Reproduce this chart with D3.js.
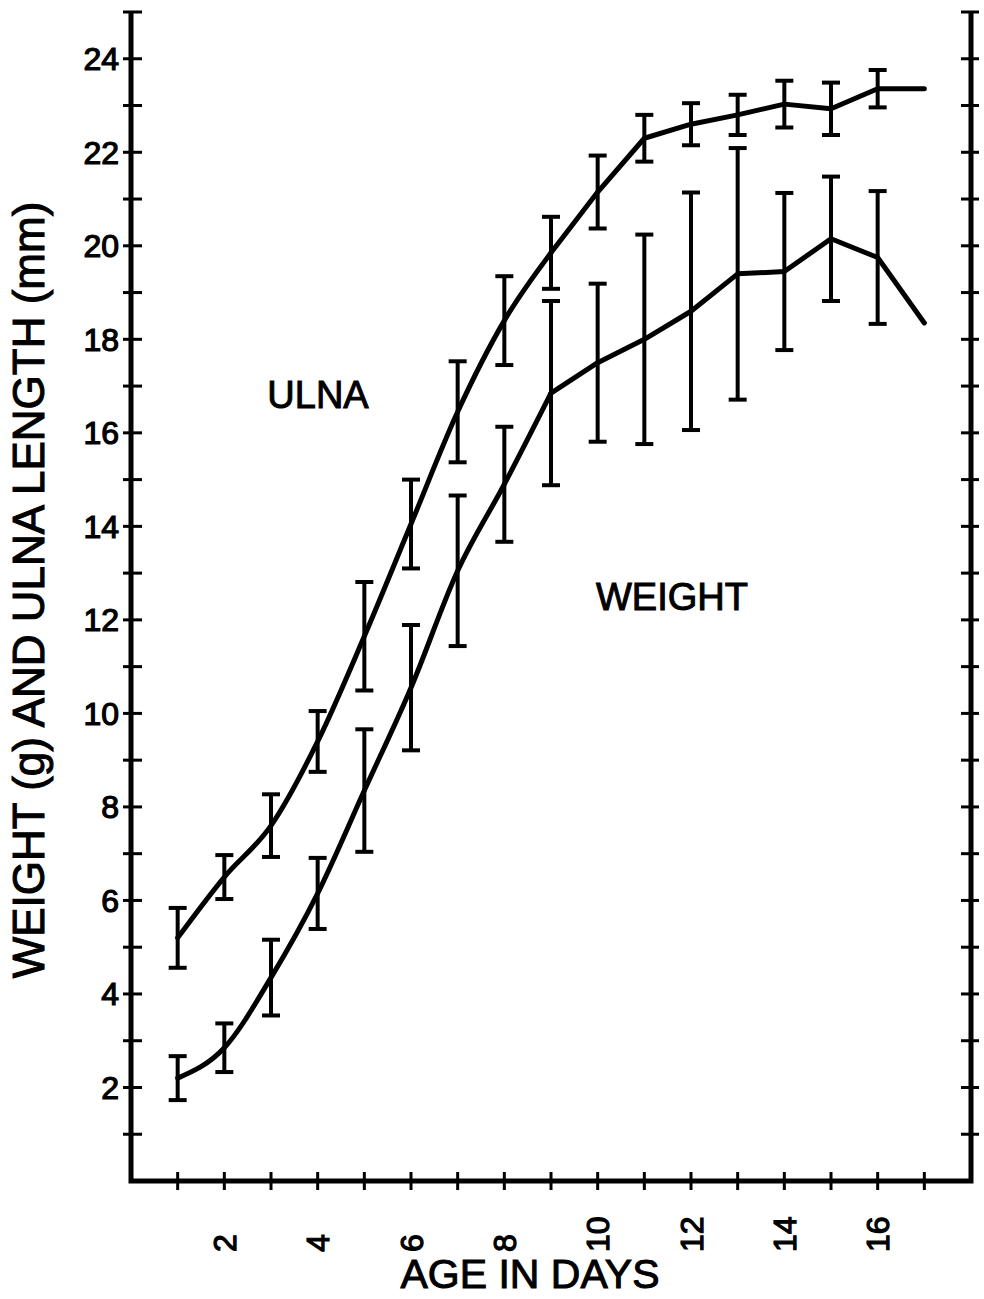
<!DOCTYPE html>
<html>
<head>
<meta charset="utf-8">
<script src="https://cdnjs.cloudflare.com/ajax/libs/d3/7.8.5/d3.min.js"></script>
<style>
  body { margin: 0; background: #fff; }
  svg { display: block; }
  text { font-family: "Liberation Sans", Arial, Helvetica, sans-serif; fill: #000; }
</style>
</head>
<body>
<script>
var width = 984,
    height = 1299;

// data
var days = [1, 2, 3, 4, 5, 6, 7, 8, 9, 10, 11, 12, 13, 14, 15, 16, 17];
var ulnaMean = [5.2, 6.5, 7.6, 9.4, 11.65, 14.05, 16.45, 18.4, 19.85, 21.15, 22.3, 22.6, 22.8, 23.03, 22.93, 23.36, 23.36];
var ulnaErr = [0.64, 0.47, 0.67, 0.65, 1.16, 0.95, 1.08, 0.95, 0.77, 0.78, 0.5, 0.45, 0.43, 0.5, 0.56, 0.4, 0];
var weightMean = [2.2, 2.85, 4.35, 6.15, 8.35, 10.55, 13.05, 14.9, 16.85, 17.5, 18.0, 18.6, 19.4, 19.45, 20.15, 19.75, 18.35];
var weightErr = [0.47, 0.52, 0.81, 0.76, 1.31, 1.34, 1.61, 1.23, 1.97, 1.69, 2.24, 2.54, 2.69, 1.68, 1.33, 1.42, 0];

var xTickValues = d3.range(1, 18);
var xLabelValues = [2, 4, 6, 8, 10, 12, 14, 16];
var yTickValues = d3.range(1, 26);
var yLabelValues = [2, 4, 6, 8, 10, 12, 14, 16, 18, 20, 22, 24];

var xTitle = "AGE IN DAYS";
var yTitle = "WEIGHT (g) AND ULNA LENGTH (mm)";

// the curves are drawn smooth up to this day, straight after it
var smoothUntil = 9;

var x = d3.scaleLinear().domain([0, 18]).range([131, 971]);
var y = d3.scaleLinear().domain([0, 25]).range([1181, 12]);

var svg = d3.select("body").append("svg")
    .attr("width", width)
    .attr("height", height);

// frame: left, bottom, right
svg.append("path")
    .attr("d", "M" + x(0) + "," + y(25) + "V" + y(0) + "H" + x(18) + "V" + y(25))
    .style("fill", "none")
    .style("stroke", "#000")
    .style("stroke-width", 5)
    .style("stroke-linejoin", "miter");

// y ticks on both sides, crossing the spine
[{ x0: x(0), inner: 11, outer: -8 }, { x0: x(18), inner: -10, outer: 8 }].forEach(function(side) {
    svg.append("g").selectAll("line")
        .data(yTickValues)
        .enter().append("line")
        .attr("x1", side.x0 + side.outer)
        .attr("x2", side.x0 + side.inner)
        .attr("y1", function(d) { return y(d); })
        .attr("y2", function(d) { return y(d); })
        .style("stroke", "#000")
        .style("stroke-width", 3);
});

svg.append("g").selectAll("line")
    .data(xTickValues)
    .enter().append("line")
    .attr("x1", function(d) { return x(d); })
    .attr("x2", function(d) { return x(d); })
    .attr("y1", y(0) - 9)
    .attr("y2", y(0) + 9)
    .style("stroke", "#000")
    .style("stroke-width", 3);

// tick labels
svg.append("g").selectAll("text")
    .data(yLabelValues)
    .enter().append("text")
    .attr("x", 119)
    .attr("y", function(d) { return y(d); })
    .attr("dy", "0.36em")
    .attr("text-anchor", "end")
    .style("font-size", "32px")
    .style("stroke", "#000")
    .style("stroke-width", 1.2)
    .text(function(d) { return d; });

svg.append("g").selectAll("text")
    .data(xLabelValues)
    .enter().append("text")
    .attr("transform", function(d) { return "translate(" + x(d) + ",1252) rotate(-90)"; })
    .attr("dy", "0.36em")
    .attr("text-anchor", "start")
    .style("font-size", "32px")
    .style("stroke", "#000")
    .style("stroke-width", 1.2)
    .text(function(d) { return d; });

// axis titles
svg.append("text")
    .attr("x", 530)
    .attr("y", 1288)
    .attr("text-anchor", "middle")
    .style("font-size", "41px")
    .style("stroke", "#000")
    .style("stroke-width", 1)
    .text(xTitle);

svg.append("text")
    .attr("transform", "translate(44,590) rotate(-90)")
    .attr("text-anchor", "middle")
    .style("font-size", "44px")
    .style("stroke", "#000")
    .style("stroke-width", 1)
    .text(yTitle);

// series
var series = [
    { name: "ULNA", mean: ulnaMean, err: ulnaErr, lx: 318, ly: 408 },
    { name: "WEIGHT", mean: weightMean, err: weightErr, lx: 672, ly: 610 }
];

var smoothLine = d3.line()
    .x(function(d) { return x(d.day); })
    .y(function(d) { return y(d.mean); })
    .curve(d3.curveMonotoneX);

var straightLine = d3.line()
    .x(function(d) { return x(d.day); })
    .y(function(d) { return y(d.mean); });

var capHalf = 9;

series.forEach(function(s) {
    var pts = days.map(function(d, i) {
        return { day: d, mean: s.mean[i], err: s.err[i] };
    });
    var bars = pts.filter(function(d) { return d.err > 0; });

    var g = svg.append("g");

    g.selectAll("line.bar")
        .data(bars)
        .enter().append("line")
        .attr("class", "bar")
        .attr("x1", function(d) { return x(d.day); })
        .attr("x2", function(d) { return x(d.day); })
        .attr("y1", function(d) { return y(d.mean + d.err); })
        .attr("y2", function(d) { return y(d.mean - d.err); })
        .style("stroke", "#000")
        .style("stroke-width", 4);

    [1, -1].forEach(function(sign) {
        g.selectAll("line.cap" + sign)
            .data(bars)
            .enter().append("line")
            .attr("x1", function(d) { return x(d.day) - capHalf; })
            .attr("x2", function(d) { return x(d.day) + capHalf; })
            .attr("y1", function(d) { return y(d.mean + sign * d.err); })
            .attr("y2", function(d) { return y(d.mean + sign * d.err); })
            .style("stroke", "#000")
            .style("stroke-width", 4);
    });

    var pieces = [
        { pts: pts.filter(function(d) { return d.day <= smoothUntil; }), gen: smoothLine },
        { pts: pts.filter(function(d) { return d.day >= smoothUntil; }), gen: straightLine }
    ];

    pieces.forEach(function(p) {
        g.append("path")
            .datum(p.pts)
            .attr("d", p.gen)
            .style("fill", "none")
            .style("stroke", "#000")
            .style("stroke-width", 5)
            .style("stroke-linecap", "round")
            .style("stroke-linejoin", "round");
    });

    svg.append("text")
        .attr("x", s.lx)
        .attr("y", s.ly)
        .attr("text-anchor", "middle")
        .style("font-size", "38px")
        .style("stroke", "#000")
        .style("stroke-width", 1)
        .text(s.name);
});
</script>
</body>
</html>
